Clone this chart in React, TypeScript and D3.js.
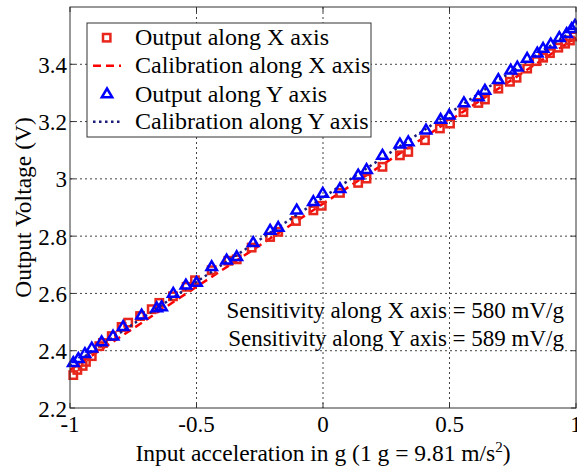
import React from "react";
import * as d3 from "d3";

const outX: [number, number][] = [
  [-0.987, 2.315], [-0.971, 2.333], [-0.95, 2.347], [-0.937, 2.361], [-0.914, 2.381],
  [-0.884, 2.416], [-0.87, 2.427], [-0.835, 2.451], [-0.796, 2.483], [-0.77, 2.498],
  [-0.723, 2.521], [-0.677, 2.545], [-0.647, 2.567], [-0.593, 2.59], [-0.539, 2.623],
  [-0.506, 2.646], [-0.44, 2.681], [-0.374, 2.714], [-0.341, 2.719], [-0.282, 2.76],
  [-0.209, 2.797], [-0.177, 2.815], [-0.107, 2.853], [-0.038, 2.89], [-0.005, 2.906],
  [0.067, 2.951], [0.139, 2.986], [0.172, 3.001], [0.235, 3.042], [0.304, 3.082],
  [0.337, 3.094], [0.403, 3.135], [0.462, 3.176], [0.502, 3.193], [0.555, 3.233],
  [0.614, 3.265], [0.64, 3.277], [0.693, 3.315], [0.739, 3.339], [0.765, 3.353],
  [0.807, 3.385], [0.844, 3.411], [0.87, 3.423], [0.897, 3.439], [0.93, 3.458],
  [0.957, 3.472], [0.976, 3.483], [0.992, 3.497],
];

const outY: [number, number][] = [
  [-0.987, 2.358], [-0.967, 2.372], [-0.941, 2.39], [-0.914, 2.409], [-0.875, 2.431],
  [-0.83, 2.451], [-0.79, 2.484], [-0.717, 2.524], [-0.657, 2.549], [-0.638, 2.553],
  [-0.592, 2.6], [-0.542, 2.629], [-0.5, 2.638], [-0.44, 2.693], [-0.381, 2.716],
  [-0.341, 2.728], [-0.276, 2.777], [-0.209, 2.82], [-0.177, 2.83], [-0.104, 2.891],
  [-0.038, 2.92], [-0.001, 2.949], [0.067, 2.966], [0.139, 3.013], [0.172, 3.032],
  [0.235, 3.082], [0.304, 3.121], [0.337, 3.129], [0.407, 3.17], [0.465, 3.207],
  [0.499, 3.222], [0.557, 3.265], [0.614, 3.286], [0.64, 3.309], [0.693, 3.346],
  [0.742, 3.379], [0.768, 3.39], [0.807, 3.42], [0.847, 3.439], [0.87, 3.455],
  [0.9, 3.47], [0.934, 3.493], [0.963, 3.507], [0.983, 3.524], [0.996, 3.536],
];

const calX: [number, number][] = [[-1, 2.333], [1, 3.493]];
const calY: [number, number][] = [[-1, 2.346], [1, 3.524]];

const xTicks = [-1, -0.5, 0, 0.5, 1];
const yTicks = [2.2, 2.4, 2.6, 2.8, 3, 3.2, 3.4];

const legendLabels = [
  "Output along X axis",
  "Calibration along X axis",
  "Output along Y axis",
  "Calibration along Y axis",
];
const notes = [
  "Sensitivity along X axis = 580 mV/g",
  "Sensitivity along Y axis = 589 mV/g",
];

const W = 577, H = 468;
const L = 70, R = 576, T = 7, B = 408;
const FONT = "'Liberation Serif', 'Times New Roman', serif";
const RED = "#e8261c";
const BLUE = "#0000ff";
const NAVY = "#1c1c7a";

export default function App() {
  const x = d3.scaleLinear().domain([-1, 1]).range([L, R]);
  const y = d3.scaleLinear().domain([2.2, 3.6]).range([B, T]);
  const line = d3.line<[number, number]>().x(d => x(d[0])).y(d => y(d[1]));
  const tri = (cx: number, cy: number, s: number) =>
    `M${cx},${cy - s} L${cx + s * 0.95},${cy + s * 0.6} L${cx - s * 0.95},${cy + s * 0.6} Z`;

  const legY = [37.7, 65.7, 94, 121.7];

  return (
    <svg width={W} height={H} style={{ position: "absolute", left: 0, top: 0, background: "#fff" }} fontFamily={FONT}>
      <rect x={0} y={0} width={W} height={H} fill="#fff" />
      {/* grid */}
      {xTicks.filter(t => t > -1 && t < 1).map(t => (
        <line key={"gx" + t} x1={x(t)} x2={x(t)} y1={T} y2={B} stroke="#444" strokeWidth={1} strokeDasharray="2,3" />
      ))}
      {yTicks.filter(t => t > 2.2).map(t => (
        <line key={"gy" + t} x1={L} x2={R} y1={y(t)} y2={y(t)} stroke="#444" strokeWidth={1} strokeDasharray="2,3" />
      ))}
      {/* ticks */}
      {xTicks.map(t => (
        <g key={"tx" + t}>
          <line x1={x(t)} x2={x(t)} y1={B} y2={B - 5} stroke="#333" />
          <line x1={x(t)} x2={x(t)} y1={T} y2={T + 5} stroke="#333" />
          <text x={x(t)} y={432} fontSize={23} textAnchor="middle">{String(t)}</text>
        </g>
      ))}
      {yTicks.map(t => (
        <g key={"ty" + t}>
          <line x1={L} x2={L + 5} y1={y(t)} y2={y(t)} stroke="#333" />
          <line x1={R} x2={R - 5} y1={y(t)} y2={y(t)} stroke="#333" />
          <text x={67} y={y(t) + 8.5} fontSize={23} textAnchor="end">{String(t)}</text>
        </g>
      ))}
      {/* data */}
      <path d={line(calX) || ""} fill="none" stroke="#ff0000" strokeWidth={2.5} strokeDasharray="8,5" />
      {outX.map((d, i) => (
        <rect key={"sx" + i} x={x(d[0]) - 3.7} y={y(d[1]) - 3.7} width={7.4} height={7.4} fill="none" stroke={RED} strokeWidth={2.5} />
      ))}
      <path d={line(calY) || ""} fill="none" stroke={NAVY} strokeWidth={2.5} strokeDasharray="2.5,3.5" />
      {outY.map((d, i) => (
        <path key={"ty" + i} d={tri(x(d[0]), y(d[1]), 5.5)} fill="none" stroke={BLUE} strokeWidth={2.5} />
      ))}
      {/* box */}
      <rect x={L} y={T} width={R - L} height={B - T} fill="none" stroke="#333" strokeWidth={1} />
      {/* legend */}
      <rect x={87} y={23} width={284} height={114} fill="#fff" stroke="#333" strokeWidth={1} />
      <rect x={103} y={legY[0] - 3.7} width={7.4} height={7.4} fill="none" stroke={RED} strokeWidth={2.5} />
      <line x1={93} x2={121} y1={legY[1]} y2={legY[1]} stroke="#ff0000" strokeWidth={2.5} strokeDasharray="8,5" />
      <path d={tri(107, legY[2], 5.5)} fill="none" stroke={BLUE} strokeWidth={2.5} />
      <line x1={93} x2={121} y1={legY[3]} y2={legY[3]} stroke={NAVY} strokeWidth={2.5} strokeDasharray="2.5,3.5" />
      {legendLabels.map((s, i) => (
        <text key={s} x={135} y={legY[i] + 7.5} fontSize={24}>{s}</text>
      ))}
      {/* notes */}
      {notes.map((s, i) => (
        <text key={s} x={564} y={318 + i * 28} fontSize={23} textAnchor="end">{s}</text>
      ))}
      {/* axis labels */}
      <text x={323} y={461} fontSize={23.5} textAnchor="middle">
        Input acceleration in g (1 g = 9.81 m/s<tspan dy={-9} fontSize={15}>2</tspan><tspan dy={9}>)</tspan>
      </text>
      <text transform={`translate(31,${(T + B) / 2}) rotate(-90)`} fontSize={23.5} textAnchor="middle">Output Voltage (V)</text>
    </svg>
  );
}
